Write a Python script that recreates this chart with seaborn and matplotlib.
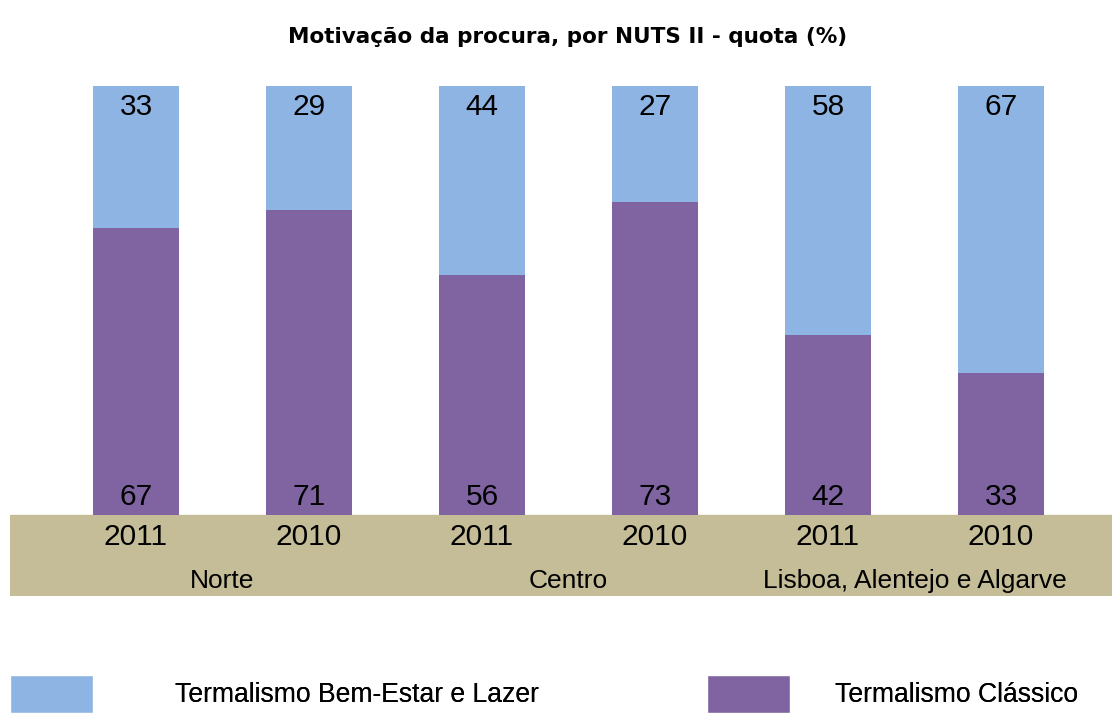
import matplotlib
matplotlib.use("Agg")
import matplotlib.pyplot as plt
import seaborn as sns
import pandas as pd
from matplotlib.patches import Patch

# ── DATA ────────────────────────────────────────────
regioes = ["Norte", "Norte", "Centro", "Centro",
           "Lisboa, Alentejo e Algarve", "Lisboa, Alentejo e Algarve"]
anos = ["2011", "2010", "2011", "2010", "2011", "2010"]
bem_estar = [33, 29, 44, 27, 58, 67]     # Termalismo Bem-Estar e Lazer
classico = [67, 71, 56, 73, 42, 33]      # Termalismo Clássico
series = ["Termalismo Bem-Estar e Lazer", "Termalismo Clássico"]
titulo = "Motivação da procura, por NUTS II - quota (%)"

AZUL = "#8EB4E3"
ROXO = "#8064A2"
BEGE = "#C4BD97"

df = pd.DataFrame({"regiao": regioes, "ano": anos,
                   "bem_estar": bem_estar, "classico": classico})
df["grupo"] = df["regiao"] + " " + df["ano"]
df["total"] = df["bem_estar"] + df["classico"]

sns.set_style("white")
plt.rcParams["font.family"] = ["Liberation Sans", "DejaVu Sans"]
plt.rcParams["text.color"] = "black"

fig = plt.figure(figsize=(11.12, 7.13), dpi=100)
# axes: x 10..1112 px, y 86..596 px (0% at 515 px)
ax = fig.add_axes([10 / 1112, 1 - 596 / 713, 1102 / 1112, 510 / 713])

sns.barplot(data=df, x="grupo", y="total", color=AZUL, width=0.5,
            saturation=1, errorbar=None, linewidth=0, ax=ax)
sns.barplot(data=df, x="grupo", y="classico", color=ROXO, width=0.5,
            saturation=1, errorbar=None, linewidth=0, ax=ax)

px = 429 / 100                     # pixels per percentage point
ymin = -(596 - 515) / px
ax.set_ylim(ymin, 100)
ax.set_xlim(-126 / 173, 5 + 111 / 173)
ax.axhspan(ymin, 0, color=BEGE, zorder=0)
ax.axis("off")

# value labels
for i, row in df.iterrows():
    ax.text(i, (515 - 115) / px, f"{row.bem_estar}", ha="center", va="baseline",
            fontsize=21.5)
    ax.text(i, (515 - 505) / px, f"{row.classico}", ha="center", va="baseline",
            fontsize=21.5)
    ax.text(i, -(545 - 515) / px, row.ano, ha="center", va="baseline",
            fontsize=21.5)

# region labels, centred under each pair
pos = df.reset_index().groupby("regiao", sort=False)["index"].mean()
for reg, x in pos.items():
    ax.text(x, -(588 - 515) / px, reg, ha="center", va="baseline", fontsize=19)

fig.text(568 / 1112, 1 - 43 / 713, titulo, ha="center", va="baseline",
         fontsize=15.5, fontweight="bold", family="DejaVu Sans")

# legend: two entries placed separately, as in the reference
fs = 19.1
fspx = fs * 100 / 72
cores = [AZUL, ROXO]
x_leg = [10, 707]
pad_leg = [82, 45]
for nome, cor, x0, pad in zip(series, cores, x_leg, pad_leg):
    leg = fig.legend(handles=[Patch(facecolor=cor, label=nome)], loc="upper left",
                     bbox_to_anchor=(x0 / 1112, 1 - 675 / 713),
                     frameon=False, borderpad=0, borderaxespad=0,
                     handlelength=83 / fspx, handleheight=48 / fspx,
                     handletextpad=pad / fspx, prop={"size": fs})
    fig.add_artist(leg)

fig.savefig("out.png", dpi=100)
